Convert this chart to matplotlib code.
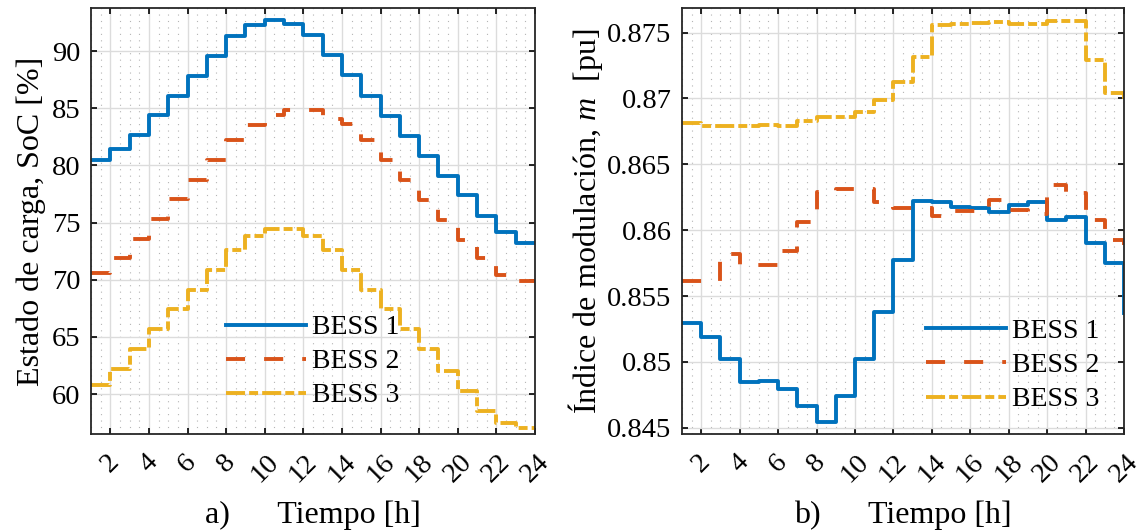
import matplotlib
matplotlib.use("Agg")
import matplotlib.pyplot as plt
from matplotlib.ticker import MultipleLocator, FuncFormatter

plt.rcParams['font.family'] = ['Liberation Serif', 'DejaVu Serif']
plt.rcParams['mathtext.fontset'] = 'custom'
plt.rcParams['mathtext.rm'] = 'Liberation Serif'
plt.rcParams['mathtext.it'] = 'Liberation Serif:italic'

# datos (hora 1..24, escalones)
horas = list(range(1, 25))

soc_bess1 = [80.5, 81.4, 82.7, 84.4, 86.1, 87.85, 89.6, 91.3, 92.3, 92.7, 92.4, 91.4,
             89.65, 87.9, 86.1, 84.3, 82.6, 80.8, 79.1, 77.4, 75.6, 74.2, 73.2, 73.2]
soc_bess2 = [70.6, 71.9, 73.6, 75.3, 77.05, 78.75, 80.5, 82.2, 83.5, 84.4, 84.85, 84.85,
             84.1, 83.6, 82.2, 80.5, 78.7, 77.0, 75.25, 73.5, 71.9, 70.45, 69.85, 69.85]
soc_bess3 = [60.75, 62.15, 63.9, 65.65, 67.4, 69.1, 70.85, 72.6, 73.8, 74.4, 74.4, 73.8,
             72.6, 70.85, 69.1, 67.4, 65.65, 63.9, 62.0, 60.3, 58.5, 57.5, 57.05, 57.05]

m_bess1 = [0.85298, 0.85185, 0.8502, 0.84844, 0.84856, 0.84793, 0.84667, 0.84541,
           0.84743, 0.8502, 0.85379, 0.85772, 0.86223, 0.86215, 0.86177, 0.86165,
           0.86139, 0.8619, 0.86215, 0.86081, 0.86101, 0.85899, 0.85753, 0.85374]
m_bess2 = [0.85615, 0.85615, 0.85818, 0.85734, 0.85734, 0.8584, 0.86065, 0.8629,
           0.86312, 0.8631, 0.86215, 0.86165, 0.86165, 0.86105, 0.86144, 0.86144,
           0.86228, 0.86152, 0.8612, 0.86342, 0.8628, 0.8608, 0.85924, 0.8589]
m_bess3 = [0.86814, 0.86788, 0.8679, 0.86788, 0.86795, 0.8679, 0.8683, 0.86857,
           0.86862, 0.86897, 0.86985, 0.87123, 0.87314, 0.87558, 0.87565, 0.8757,
           0.87578, 0.87568, 0.87563, 0.8759, 0.87588, 0.87293, 0.87044, 0.86963]

nombres = ['BESS 1', 'BESS 2', 'BESS 3']
colores = ['#0072BD', '#D95319', '#EDB120']
lw = 2.8
estilos = [dict(linestyle='-'),
           dict(linestyle=(0, (4.9, 4.9))),
           dict(linestyle=(0, (4.9, 1.05, 2.3, 1.05)))]

fig = plt.figure(figsize=(11.45, 5.32), dpi=100)
ax1 = fig.add_axes([91 / 1145, 1 - 434 / 532, 444 / 1145, 425.7 / 532])
ax2 = fig.add_axes([682 / 1145, 1 - 434 / 532, 442 / 1145, 425.7 / 532])


def formato(ax):
    ax.set_xlim(1, 24)
    ax.xaxis.set_major_locator(MultipleLocator(2))
    ax.xaxis.set_minor_locator(MultipleLocator(0.5))
    ax.grid(True, which='major', color='#dcdcdc', linewidth=1.0, zorder=0)
    ax.grid(True, which='minor', axis='x', color='#b5b5b5', linewidth=0.8,
            linestyle=(0, (1, 4.8)), zorder=0)
    ax.set_axisbelow(True)
    ax.tick_params(which='major', direction='in', top=True, right=True,
                   length=4, width=1.2, labelsize=20.5)
    ax.tick_params(which='minor', length=0)
    ax.tick_params(axis='x', pad=11)
    ax.tick_params(axis='y', pad=7.5)
    for lbl in ax.get_xticklabels():
        lbl.set_rotation(45)
        lbl.set_ha('center')
    for s in ax.spines.values():
        s.set_linewidth(1.3)
        s.set_color('#262626')


leyenda = dict(frameon=False, fontsize=20, handlelength=2.88, handletextpad=0.22,
               labelspacing=0.31, borderpad=0.1)

for y, nom, c, est in zip([soc_bess1, soc_bess2, soc_bess3], nombres, colores, estilos):
    ax1.step(horas, y, where='post', color=c, linewidth=lw, label=nom, **est)
ax1.set_ylim(56.5, 93.75)
ax1.yaxis.set_major_locator(MultipleLocator(5))
formato(ax1)
ax1.set_ylabel('Estado de carga, SoC [%]', fontsize=23, labelpad=4)
ax1.set_xlabel('a)      Tiempo [h]', fontsize=23, labelpad=10)
ax1.legend(loc='lower left', bbox_to_anchor=(0.2665, 0.021), **leyenda)

for y, nom, c, est in zip([m_bess1, m_bess2, m_bess3], nombres, colores, estilos):
    ax2.step(horas, y, where='post', color=c, linewidth=lw, label=nom, **est)
ax2.set_ylim(0.84452, 0.87685)
ax2.yaxis.set_major_locator(MultipleLocator(0.005))
ax2.yaxis.set_major_formatter(FuncFormatter(lambda v, p: '%g' % round(v, 4)))
formato(ax2)
ax2.set_ylabel('Índice de modulación, $m$  [pu]', fontsize=23, labelpad=2)
ax2.set_xlabel('b)      Tiempo [h]', fontsize=23, labelpad=10)
ax2.legend(loc='lower left', bbox_to_anchor=(0.514, 0.012), **leyenda)

fig.savefig('out.png', dpi=100)
